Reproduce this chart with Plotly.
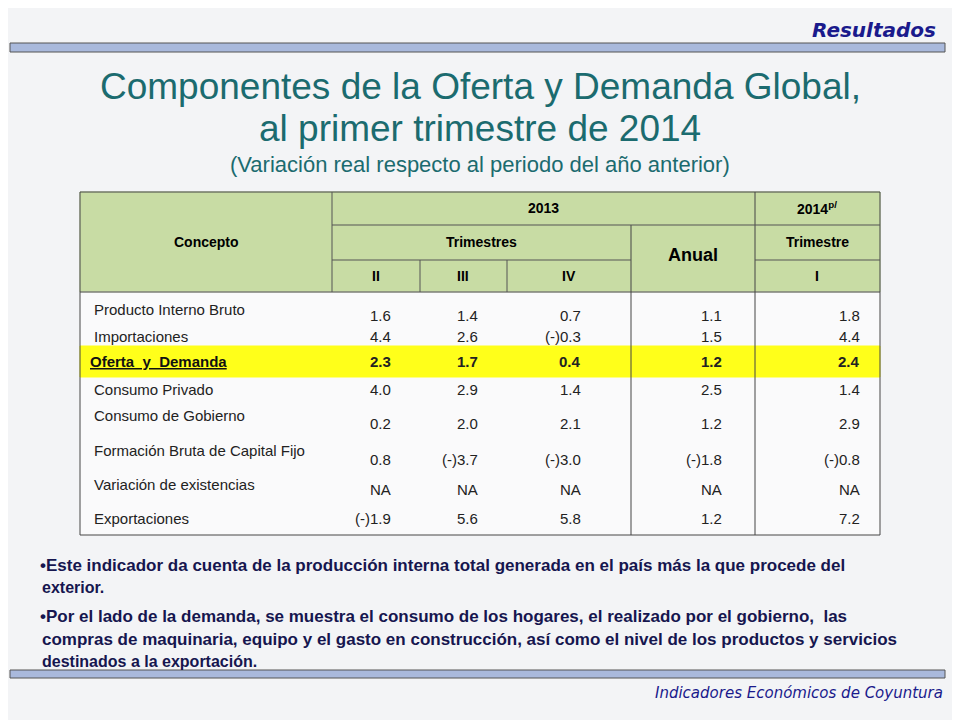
import plotly.graph_objects as go

conceptos = ["Producto Interno Bruto", "Importaciones", "Oferta  y  Demanda", "Consumo Privado",
             "Consumo de Gobierno", "Formación Bruta de Capital Fijo", "Variación de existencias", "Exportaciones"]
col_II = ["1.6", "4.4", "2.3", "4.0", "0.2", "0.8", "NA", "(-)1.9"]
col_III = ["1.4", "2.6", "1.7", "2.9", "2.0", "(-)3.7", "NA", "5.6"]
col_IV = ["0.7", "(-)0.3", "0.4", "1.4", "2.1", "(-)3.0", "NA", "5.8"]
col_anual = ["1.1", "1.5", "1.2", "2.5", "1.2", "(-)1.8", "NA", "1.2"]
col_2014 = ["1.8", "4.4", "2.4", "1.4", "2.9", "(-)0.8", "NA", "7.2"]

label_y = [309, 336, 361, 389, 415, 450, 484, 518]
value_y = [315, 336, 361, 389, 423, 459, 489, 518]
col_right = [393, 480, 583, 724, 862]

F = "Liberation Sans"
N = "Liberation Sans Narrow, Liberation Sans"
fig = go.Figure()
shapes, ann = [], []

def rect(x0, y0, x1, y1, fill, line=None, w=1):
    shapes.append(dict(type="rect", x0=x0, y0=y0, x1=x1, y1=y1, fillcolor=fill,
                       line=dict(color=line or fill, width=w), layer="below"))

def ln(x0, y0, x1, y1, c="#555", w=1):
    shapes.append(dict(type="line", x0=x0, y0=y0, x1=x1, y1=y1, line=dict(color=c, width=w)))

def txt(x, y, t, size=13, color="black", xanchor="center", bold=False, family=F, italic=False):
    if bold: t = "<b>" + t + "</b>"
    if italic: t = "<i>" + t + "</i>"
    ann.append(dict(x=x, y=y, text=t, showarrow=False, xanchor=xanchor, yanchor="middle",
                    font=dict(size=size, color=color, family=family)))

rect(0, 0, 960, 720, "#f3f4f6")
rect(10, 43, 945, 52, "#a9b9dc", "#555", 1)
txt(938, 30, "Resultados", 20, "#1a1a8c", "right", True, "DejaVu Sans", True)
rect(10, 670, 945, 678, "#a9b9dc", "#555", 1)
txt(945, 693, "Indicadores Económicos de Coyuntura", 15, "#1a1a8c", "right", False, "DejaVu Sans", True)

txt(480, 86, "Componentes de la Oferta y Demanda Global,", 37, "#1b6b6f")
txt(480, 128, "al primer trimestre de 2014", 37, "#1b6b6f")
txt(480, 164, "(Variación real respecto al periodo del año anterior)", 22, "#1b6b6f")

rect(80, 192, 880, 292, "#c8dca4")
rect(80, 292, 880, 535, "rgba(255,255,255,0.55)")
rect(80, 346, 880, 377, "#ffff1a")
for x in [80, 880]:
    ln(x, 192, x, 535, "#444")
ln(80, 192, 880, 192, "#444")
ln(80, 535, 880, 535, "#444")
ln(80, 292, 880, 292, "#444")
ln(332, 192, 332, 292)
ln(755, 192, 755, 535, "#444")
ln(631, 225, 631, 535, "#444")
ln(332, 225, 880, 225)
ln(332, 260, 631, 260)
ln(755, 260, 880, 260)
ln(420, 260, 420, 292)
ln(507, 260, 507, 292)

txt(206, 242, "Concepto", 14, bold=True, family=N)
txt(543, 208, "2013", 14, bold=True, family=N)
txt(817, 208, "2014<sup>p/</sup>", 14, bold=True, family=N)
txt(481, 242, "Trimestres", 14, bold=True, family=N)
txt(693, 255, "Anual", 18, bold=True, family=N)
txt(817, 242, "Trimestre", 14, bold=True, family=N)
for x, t in [(376, "II"), (463, "III"), (569, "IV"), (817, "I")]:
    txt(x, 276, t, 14, bold=True, family=N)

cols = [col_II, col_III, col_IV, col_anual, col_2014]
for i, name in enumerate(conceptos):
    hl = i == 2
    if hl:
        txt(88, label_y[i], "<u>" + name + "</u>", 15, "#111", "left", True, N)
    else:
        txt(92, label_y[i], name, 15, "#222", "left", family=N)
    for c, xr in zip(cols, col_right):
        txt(xr, value_y[i], c[i], 15, "#222", "right", hl, N)

body = [
    (565, "•Este indicador da cuenta de la producción interna total generada en el país más la que procede del"),
    (587, "exterior."),
    (616, "•Por el lado de la demanda, se muestra el consumo de los hogares, el realizado por el gobierno,  las"),
    (639, "compras de maquinaria, equipo y el gasto en construcción, así como el nivel de los productos y servicios"),
    (661, "destinados a la exportación."),
]
for y, t in body:
    txt(38 if t.startswith("•") else 40, y, t, 17 if len(t) > 50 else 16, "#16164f", "left", True)

fig.update_layout(width=952, height=712, margin=dict(l=0, r=0, t=0, b=0),
                  paper_bgcolor="#f3f4f6", plot_bgcolor="#f3f4f6",
                  xaxis=dict(range=[8, 960], visible=False, fixedrange=True),
                  yaxis=dict(range=[720, 8], visible=False, fixedrange=True),
                  shapes=shapes, annotations=ann, showlegend=False)
fig.write_html("out.html", config={"displayModeBar": False})
